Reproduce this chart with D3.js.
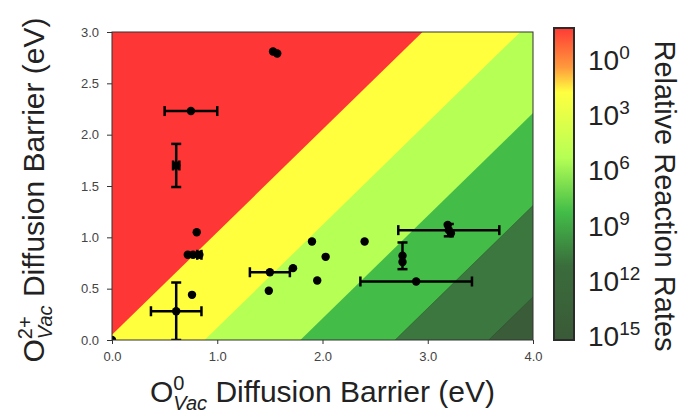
<!DOCTYPE html>
<html>
<head>
<meta charset="utf-8">
<script src="https://d3js.org/d3.v7.min.js"></script>
<style>
  body { margin: 0; background: #fff; }
  text { font-family: "Liberation Sans", Arial, sans-serif; }
</style>
</head>
<body>
<svg width="694" height="417"></svg>
<script>
// measured values from the figure

// barrier difference (x - y, eV) where each contour band starts, and its colour
var bandEdges = [-10, -0.05, 0.88, 1.79, 2.69, 3.58];
var bandColors = ["#ff3636", "#ffff3d", "#b6ff55", "#44bd48", "#3b773e", "#3b5c39"];

// points: O0 barrier, O2+ barrier, errors
var pointX = [1.53, 1.57, 0.75, 0.61, 0.805, 0.72, 0.77, 0.83, 0.76, 0.61, 0.0, 1.50, 1.72, 1.49, 1.90, 1.95, 2.03, 2.40, 2.76, 2.76, 2.89, 3.20, 3.19, 3.22];
var pointY = [2.81, 2.79, 2.23, 1.70, 1.05, 0.83, 0.83, 0.83, 0.44, 0.28, 0.0, 0.66, 0.70, 0.48, 0.96, 0.58, 0.81, 0.96, 0.82, 0.76, 0.57, 1.07, 1.12, 1.04];
var xErr   = [0, 0, 0.25, 0.03, 0, 0, 0, 0.02, 0, 0.24, 0, 0.19, 0, 0, 0, 0, 0, 0, 0, 0, 0.53, 0.48, 0, 0];
var yErr   = [0, 0, 0, 0.21, 0, 0, 0, 0, 0, 0.28, 0, 0, 0, 0, 0, 0, 0, 0, 0.13, 0, 0, 0.06, 0, 0];

var xTicks = [0, 1, 2, 3, 4];
var yTicks = [0, 0.5, 1.0, 1.5, 2.0, 2.5, 3.0];

// colorbar: exponents of the tick labels and gradient stops
var cbarTickExp = [0, 3, 6, 9, 12, 15];
var cbarStopExp = [-1.74, 0.4, 1.75, 5.3, 8.3, 11.2, 15.22];
var cbarStopColors = ["#ff3a35", "#ff9a3c", "#ffff40", "#b6ff55", "#42bc48", "#3a6c3c", "#3a5a37"];

var svg = d3.select("svg"),
    margin = {top: 32, right: 161, bottom: 77, left: 112},
    width = +svg.attr("width") - margin.left - margin.right,
    height = +svg.attr("height") - margin.top - margin.bottom;

var x = d3.scaleLinear().domain([0, 4]).range([0, width]),
    y = d3.scaleLinear().domain([0, 3]).range([height, 0]);

var g = svg.append("g")
    .attr("transform", "translate(" + margin.left + "," + margin.top + ")");

svg.append("defs").append("clipPath")
    .attr("id", "plotclip")
  .append("rect")
    .attr("width", width)
    .attr("height", height);

// contour bands: region where x - y >= edge, drawn on top of each other
var bands = g.append("g").attr("clip-path", "url(#plotclip)");
bandEdges.forEach(function(e, i) {
  var pts = [[e - 20, -20], [e + 20, 20], [30, 20], [30, -20]];
  bands.append("path")
      .attr("d", "M" + pts.map(function(p) { return x(p[0]) + "," + y(p[1]); }).join("L") + "Z")
      .attr("fill", bandColors[i]);
});
// faint contour lines between the dark bands
[bandEdges[4], bandEdges[5]].forEach(function(e) {
  bands.append("line")
      .attr("x1", x(e)).attr("y1", y(0))
      .attr("x2", x(e + 4)).attr("y2", y(4))
      .attr("stroke", "#2c4a2c").attr("stroke-width", 0.8).attr("opacity", 0.6);
});

// error bars and points
var pts = g.append("g").attr("clip-path", "url(#plotclip)");
var cap = 5;
pointX.forEach(function(px, i) {
  var cx = x(px), cy = y(pointY[i]);
  if (xErr[i] > 0) {
    var x0 = x(px - xErr[i]), x1 = x(px + xErr[i]);
    pts.append("line").attr("x1", x0).attr("x2", x1).attr("y1", cy).attr("y2", cy);
    pts.append("line").attr("x1", x0).attr("x2", x0).attr("y1", cy - cap).attr("y2", cy + cap);
    pts.append("line").attr("x1", x1).attr("x2", x1).attr("y1", cy - cap).attr("y2", cy + cap);
  }
  if (yErr[i] > 0) {
    var y0 = y(pointY[i] - yErr[i]), y1 = y(pointY[i] + yErr[i]);
    pts.append("line").attr("x1", cx).attr("x2", cx).attr("y1", y0).attr("y2", y1);
    pts.append("line").attr("x1", cx - cap).attr("x2", cx + cap).attr("y1", y0).attr("y2", y0);
    pts.append("line").attr("x1", cx - cap).attr("x2", cx + cap).attr("y1", y1).attr("y2", y1);
  }
});
pts.selectAll("line").attr("stroke", "#000").attr("stroke-width", 2.5);

pts.selectAll("circle")
  .data(pointX)
  .enter().append("circle")
    .attr("cx", function(d) { return x(d); })
    .attr("cy", function(d, i) { return y(pointY[i]); })
    .attr("r", 4.2)
    .attr("fill", "#000");

// axes
var xAxis = g.append("g")
    .attr("transform", "translate(0," + height + ")")
    .call(d3.axisBottom(x).tickValues(xTicks).tickFormat(d3.format(".1f"))
      .tickSize(4).tickSizeOuter(0).tickPadding(8));
var yAxis = g.append("g")
    .call(d3.axisLeft(y).tickValues(yTicks).tickFormat(d3.format(".1f"))
      .tickSize(5).tickSizeOuter(0).tickPadding(8));
[xAxis, yAxis].forEach(function(a) {
  a.select(".domain").remove();
  a.selectAll("line").attr("stroke", "#333");
  a.selectAll("text").attr("font-size", 13).attr("fill", "#444")
      .attr("font-family", "Liberation Sans, Arial, sans-serif");
});

g.append("rect")
    .attr("width", width)
    .attr("height", height)
    .attr("fill", "none")
    .attr("stroke", "#333")
    .attr("stroke-width", 1);

// axis labels with sub/superscripts
function barrierLabel(sel, sup) {
  sel.append("tspan").text("O");
  var s = sel.append("tspan").attr("font-size", 20).attr("dy", -12).text(sup);
  var w = s.node().getComputedTextLength();
  sel.append("tspan").attr("font-size", 20).attr("font-style", "italic")
      .attr("dx", -w).attr("dy", 20).text("Vac");
  sel.append("tspan").attr("dy", -8).text(" Diffusion Barrier (eV)");
}

svg.append("text")
    .attr("x", margin.left + width / 2)
    .attr("y", 402)
    .attr("text-anchor", "middle")
    .attr("font-size", 30)
    .attr("fill", "#222")
    .call(barrierLabel, "0");

svg.append("text")
    .attr("transform", "translate(44," + (margin.top + height / 2 + 4) + ") rotate(-90)")
    .attr("text-anchor", "middle")
    .attr("font-size", 30)
    .attr("fill", "#222")
    .call(barrierLabel, "2+");

// colorbar
var cb = {x: 554, w: 20, top: 28, bottom: 340};
var c = d3.scaleLinear()
    .domain([cbarStopExp[0], cbarStopExp[cbarStopExp.length - 1]])
    .range([cb.top, cb.bottom]);

var grad = svg.select("defs").append("linearGradient")
    .attr("id", "cbgrad")
    .attr("x1", 0).attr("y1", 0).attr("x2", 0).attr("y2", 1);
cbarStopExp.forEach(function(e, i) {
  grad.append("stop")
      .attr("offset", (c(e) - cb.top) / (cb.bottom - cb.top))
      .attr("stop-color", cbarStopColors[i]);
});

svg.append("rect")
    .attr("x", cb.x).attr("y", cb.top)
    .attr("width", cb.w).attr("height", cb.bottom - cb.top)
    .attr("fill", "url(#cbgrad)")
    .attr("stroke", "#2b2b2b")
    .attr("stroke-width", 2);

var cbLabels = svg.selectAll(".cblabel")
  .data(cbarTickExp)
  .enter().append("text")
    .attr("class", "cblabel")
    .attr("x", 588)
    .attr("y", function(d) { return c(d) + 10; })
    .attr("font-size", 28)
    .attr("fill", "#222");
cbLabels.append("tspan").text("10");
cbLabels.append("tspan")
    .attr("font-size", 19)
    .attr("dy", -11)
    .text(function(d) { return d; });

svg.append("text")
    .attr("transform", "translate(655," + ((cb.top + cb.bottom) / 2 + 12) + ") rotate(90)")
    .attr("text-anchor", "middle")
    .attr("font-size", 29)
    .attr("fill", "#222")
    .text("Relative Reaction Rates");
</script>
</body>
</html>
